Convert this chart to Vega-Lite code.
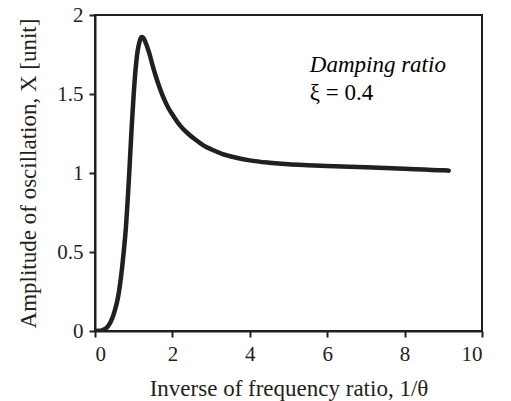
{
  "$schema": "https://vega.github.io/schema/vega-lite/v6.json",
  "width": 387,
  "height": 316,
  "autosize": "none",
  "padding": {"left": 95, "top": 15, "right": 29, "bottom": 70},
  "background": "white",
  "config": {
    "view": {"stroke": "#231f20", "strokeWidth": 2},
    "font": "Liberation Serif",
    "mark": {"font": "Liberation Serif"},
    "style": {"annot": {"font": "Liberation Serif", "fontSize": 23, "fill": "#231f20"}},
    "axis": {
      "grid": false,
      "domainColor": "#231f20",
      "domainWidth": 2,
      "tickColor": "#231f20",
      "tickWidth": 2,
      "tickSize": 6,
      "labelFont": "Liberation Serif",
      "labelFontSize": 21,
      "labelColor": "#231f20",
      "titleFont": "Liberation Serif",
      "titleFontSize": 23,
      "titleFontWeight": "normal",
      "titleColor": "#231f20"
    }
  },
  "layer": [
    {
      "data": {
        "values": [
          {"x": 0.02, "y": 0.0},
          {"x": 0.1, "y": 0.001},
          {"x": 0.2, "y": 0.006},
          {"x": 0.3, "y": 0.02},
          {"x": 0.4, "y": 0.055},
          {"x": 0.5, "y": 0.12},
          {"x": 0.6, "y": 0.22},
          {"x": 0.65, "y": 0.3},
          {"x": 0.7, "y": 0.4},
          {"x": 0.75, "y": 0.52},
          {"x": 0.8, "y": 0.66},
          {"x": 0.85, "y": 0.85},
          {"x": 0.9, "y": 1.07},
          {"x": 0.95, "y": 1.3},
          {"x": 1.0, "y": 1.5},
          {"x": 1.05, "y": 1.66},
          {"x": 1.1, "y": 1.77},
          {"x": 1.15, "y": 1.83},
          {"x": 1.2, "y": 1.86},
          {"x": 1.25, "y": 1.855},
          {"x": 1.3, "y": 1.83},
          {"x": 1.4, "y": 1.76},
          {"x": 1.5, "y": 1.67},
          {"x": 1.6, "y": 1.59},
          {"x": 1.7, "y": 1.52},
          {"x": 1.8, "y": 1.46},
          {"x": 1.9, "y": 1.41},
          {"x": 2.0, "y": 1.37},
          {"x": 2.2, "y": 1.3},
          {"x": 2.4, "y": 1.25},
          {"x": 2.6, "y": 1.21},
          {"x": 2.8, "y": 1.175},
          {"x": 3.0, "y": 1.15},
          {"x": 3.3, "y": 1.12},
          {"x": 3.6, "y": 1.1},
          {"x": 4.0, "y": 1.08},
          {"x": 4.5, "y": 1.065},
          {"x": 5.0, "y": 1.055},
          {"x": 5.5, "y": 1.049},
          {"x": 6.0, "y": 1.044},
          {"x": 7.0, "y": 1.036},
          {"x": 8.0, "y": 1.027},
          {"x": 9.0, "y": 1.017},
          {"x": 9.14, "y": 1.015}
        ]
      },
      "mark": {"type": "line", "color": "#231f20", "strokeWidth": 4.5, "interpolate": "monotone", "strokeCap": "round", "clip": true},
      "encoding": {
        "x": {
          "field": "x", "type": "quantitative",
          "scale": {"domain": [0, 10], "nice": false},
          "axis": {"values": [0, 2, 4, 6, 8, 10], "title": "Inverse of frequency ratio, 1/θ", "labelPadding": 6, "titlePadding": 13}
        },
        "y": {
          "field": "y", "type": "quantitative",
          "scale": {"domain": [0, 2], "nice": false},
          "axis": {"values": [0, 0.5, 1, 1.5, 2], "format": "~g", "title": "Amplitude of oscillation, X [unit]", "labelPadding": 6, "titlePadding": 16}
        }
      }
    },
    {
      "data": {
        "values": [
          {"x": 5.55, "y": 1.64, "label": "Damping ratio"}
        ]
      },
      "mark": {"type": "text", "style": "annot", "align": "left", "baseline": "alphabetic", "fontStyle": "italic"},
      "encoding": {
        "x": {"field": "x", "type": "quantitative"},
        "y": {"field": "y", "type": "quantitative"},
        "text": {"field": "label", "type": "nominal"}
      }
    },
    {
      "data": {
        "values": [
          {"x": 5.55, "y": 1.46, "label": "ξ = 0.4"}
        ]
      },
      "mark": {"type": "text", "style": "annot", "align": "left", "baseline": "alphabetic"},
      "encoding": {
        "x": {"field": "x", "type": "quantitative"},
        "y": {"field": "y", "type": "quantitative"},
        "text": {"field": "label", "type": "nominal"}
      }
    }
  ]
}
